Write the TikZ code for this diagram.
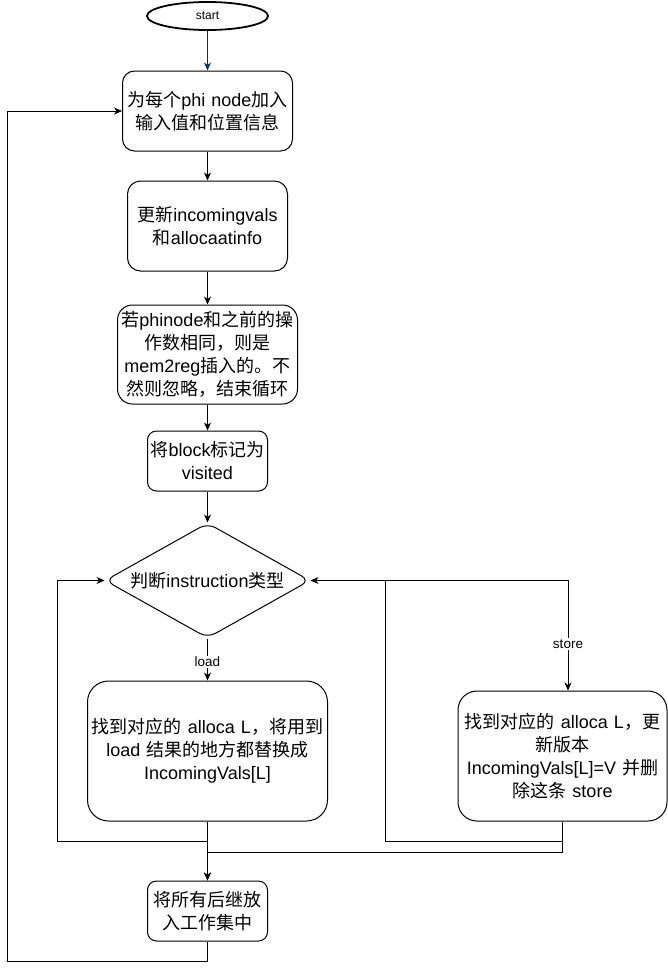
\documentclass[tikz,border=0pt]{standalone}
\usepackage{fontspec}
\usepackage{tikz}
\usepackage{xcolor}
\usetikzlibrary{arrows.meta,positioning,calc,shapes.geometric}
\setmainfont{Liberation Sans}
\newfontfamily\cjk{Noto Sans CJK SC}
\definecolor{cLine}{HTML}{000000}
\definecolor{cStart}{HTML}{003366}
\newcommand{\zh}[1]{{\cjk #1}}
\tikzset{
  box/.style={draw=cLine,fill=white,line width=1pt,rounded corners=12pt,
              align=center,inner sep=0pt,font=\fontsize{18}{23}\selectfont},
  proc/.style 2 args={box,minimum width=#1,minimum height=#2,text width=#1-6pt},
  term/.style={draw=cLine,fill=white,ellipse,line width=1.8pt,minimum width=121pt,
               minimum height=28pt,inner sep=0pt,font=\fontsize{12}{14}\selectfont},
  choice/.style={box,diamond,aspect=1.78,rounded corners=9pt,minimum width=205pt,
                 minimum height=115pt},
  flow/.style={-{Stealth[length=8pt,width=7pt,inset=2.5pt]},line width=0.9pt,draw=cLine},
  lbl/.style={fill=white,inner sep=1.5pt,font=\fontsize{13.5}{15}\selectfont},
}
\begin{document}
\begin{tikzpicture}[x=1pt,y=-1pt]
\useasboundingbox (0,0) rectangle (668,970);

% ---------------------------------------------------------------- MAIN COLUMN
\node[term] (start) at (207.5,16) {start};

\node[proc={170pt}{80pt}] (b1) at (207.5,111) {%
\zh{为每个}phi node\zh{加入}\\\zh{输入值和位置信息}};

\node[proc={160pt}{90pt},rounded corners=13pt] (b2) at (207.5,226) {%
\zh{更新}incomingvals\\\zh{和}allocaatinfo};

\node[proc={180pt}{99pt},rounded corners=15pt] (b3) at (207.5,354.5) {%
\zh{若}phinode\zh{和之前的操}\\\zh{作数相同，则是}\\mem2reg\zh{插入的。不}\\\zh{然则忽略，结束循环}};

\node[proc={120pt}{60pt},rounded corners=9pt] (b4) at (207.5,461) {%
\zh{将}block\zh{标记为}\\visited};

\node[choice] (dec) at (207.5,580.5) {\zh{判断}instruction\zh{类型}};

% ---------------------------------------------------------------- BRANCHES
\node[proc={240pt}{140pt},rounded corners=21pt] (ld) at (207.5,751) {%
\zh{找到对应的} alloca L\zh{，将用到}\\load \zh{结果的地方都替换成}\\IncomingVals[L]};

\node[proc={209pt}{130pt},rounded corners=19pt] (st) at (562.5,756) {%
\zh{找到对应的} alloca L\zh{，更}\\\zh{新版本}\\IncomingVals[L]=V \zh{并删}\\\zh{除这条} store};

\node[proc={120pt}{60pt},rounded corners=9pt] (b7) at (207.5,911) {%
\zh{将所有后继放}\\\zh{入工作集中}};

% ---------------------------------------------------------------- arrows
\draw[flow,draw=cStart] (start) -- (b1);
\draw[flow] (b1) -- (b2);
\draw[flow] (b2) -- (b3);
\draw[flow] (b3) -- (b4);
\draw[flow] (b4) -- (dec);

\draw[flow] (dec.south) -- node[lbl,pos=0.56] {load} (ld.north);
\draw[flow] (dec.east) -| node[lbl,pos=0.79] {store} ([xshift=5.5pt]st.north);

\draw[flow] (ld.south) -- ++(0,20) -| ([xshift=-47pt]dec.west) -- (dec.west);
\draw[flow] (st.south) -- ++(0,20) -| ([xshift=75pt]dec.east) -- (dec.east);

\draw[flow] (ld.south) -- (b7.north);
\draw[flow] (st.south) -- ++(0,31) -| (b7.north);

\draw[flow] (b7.south) -- ++(0,20) -| ([xshift=-115pt]b1.west) -- (b1.west);

\end{tikzpicture}
\end{document}
